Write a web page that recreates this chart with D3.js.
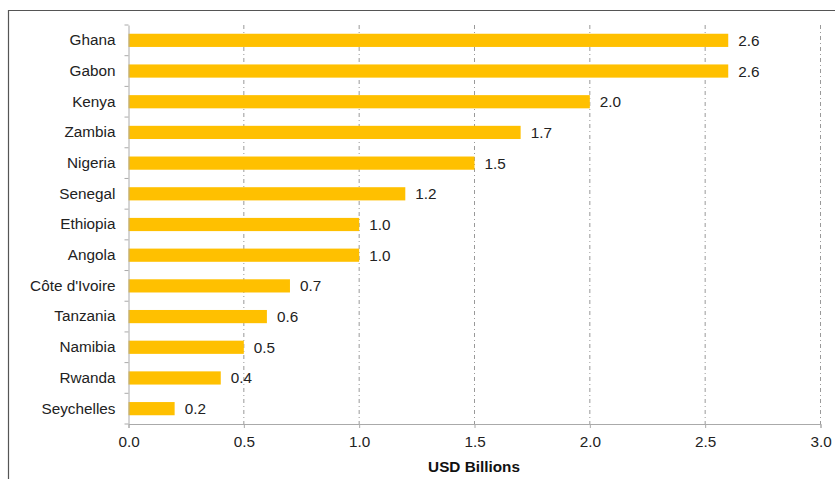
<!DOCTYPE html>
<html><head><meta charset="utf-8">
<script src="https://cdn.jsdelivr.net/npm/d3@7"></script>
<style>
body{margin:0;background:#fff;}
svg{display:block;font-family:Arial,"Liberation Sans",sans-serif;}
</style></head>
<body><svg id="c" width="835" height="479"></svg>
<script>
const categories = ["Ghana","Gabon","Kenya","Zambia","Nigeria","Senegal","Ethiopia","Angola","Côte d'Ivoire","Tanzania","Namibia","Rwanda","Seychelles"];
const values = [2.6,2.6,2.0,1.7,1.5,1.2,1.0,1.0,0.7,0.6,0.5,0.4,0.2];
const xTicks = [0,0.5,1.0,1.5,2.0,2.5,3.0];
const xTitle = "USD Billions";

const FS = "15.3px";
const svg = d3.select("#c");
const m = {left:128.5, right:820.5, top:25, bottom:424};
const x = d3.scaleLinear().domain([0,3]).range([m.left, m.right]);
const y = d3.scaleBand().domain(categories).range([m.top, m.bottom]).paddingInner(0.57).paddingOuter(0.285);

// frame
svg.append("path").attr("d","M8.5,479 V10.5 H835").attr("fill","none").attr("stroke","#555").attr("stroke-width",1.2);

// gridlines
svg.append("g").selectAll("line").data(xTicks.slice(1)).join("line")
  .attr("x1",d=>x(d)).attr("x2",d=>x(d)).attr("y1",m.top).attr("y2",m.bottom)
  .attr("stroke","#999").attr("stroke-width",1).attr("stroke-dasharray","4,3,1,3");

// bars
svg.append("g").selectAll("rect").data(values).join("rect")
  .attr("x",x(0)).attr("y",(d,i)=>y(categories[i])).attr("width",d=>x(d)-x(0)).attr("height",y.bandwidth())
  .attr("fill","#FFC000");

// value labels
svg.append("g").selectAll("text").data(values).join("text")
  .attr("x",d=>x(d)+10).attr("y",(d,i)=>y(categories[i])+y.bandwidth()/2)
  .attr("dy","0.36em").attr("font-size",FS).attr("fill","#222")
  .text(d=>d3.format(".1f")(d));

// x axis
const xa = svg.append("g").attr("transform",`translate(0,${m.bottom})`)
  .call(d3.axisBottom(x).tickValues(xTicks).tickFormat(d3.format(".1f")).tickSize(4).tickPadding(8));
xa.select(".domain").attr("stroke","#aaa");
xa.selectAll(".tick line").attr("stroke","#aaa");
xa.selectAll("text").attr("font-size",FS).attr("fill","#222").attr("font-family","Arial,'Liberation Sans',sans-serif");

// y axis
const yb = d3.scaleBand().domain(categories).range([m.top,m.bottom]);
const ya = svg.append("g").attr("transform",`translate(${m.left},0)`)
  .call(d3.axisLeft(y).tickSize(0).tickPadding(13));
ya.select(".domain").attr("stroke","#aaa");
ya.selectAll("text").attr("font-size",FS).attr("fill","#222").attr("font-family","Arial,'Liberation Sans',sans-serif");
svg.append("g").selectAll("line").data(d3.range(categories.length+1)).join("line")
  .attr("x1",m.left-4).attr("x2",m.left).attr("y1",i=>m.top+i*yb.step()).attr("y2",i=>m.top+i*yb.step())
  .attr("stroke","#aaa");

// title
svg.append("text").attr("x",(m.left+m.right)/2-0.5).attr("y",472).attr("text-anchor","middle")
  .attr("font-size",FS).attr("font-weight","bold").attr("fill","#111").text(xTitle);
</script></body></html>
